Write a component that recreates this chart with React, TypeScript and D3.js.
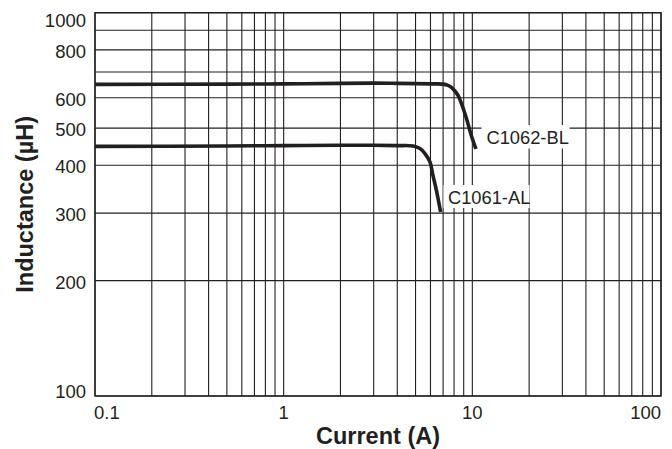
import { useEffect, useRef } from "react";
import * as d3 from "d3";

// Inductance vs current
const blCurrent = [0.1, 0.5, 1, 2, 3, 4, 5, 6, 7, 7.43, 7.8, 8.39, 8.81, 9.36, 9.83, 10.45];
const blInductance = [650, 651, 652, 654, 655, 654, 653, 652, 651, 646, 637, 609, 575, 525, 482, 441];

const alCurrent = [0.1, 0.5, 1, 2, 3, 4, 4.85, 5.28, 5.61, 5.96, 6.18, 6.49, 6.79];
const alInductance = [448, 449, 450, 451, 451, 450, 449, 442, 429, 408, 377, 339, 302];

const xTickValues = [0.1, 1, 10, 100];
const xTickLabels = ["0.1", "1", "10", "100"];
const yTickValues = [100, 200, 300, 400, 500, 600, 800, 1000];
const yTickLabels = ["100", "200", "300", "400", "500", "600", "800", "1000"];

const seriesNames = ["C1062-BL", "C1061-AL"];

const W = 672;
const H = 449;
const INK = "#231f20";

export default function App() {
  const ref = useRef<SVGSVGElement>(null);

  useEffect(() => {
    const svg = d3.select(ref.current);
    if (!svg.node()) return;
    svg.selectAll("*").remove();

    const left = 95, right = 661, top = 12.7, bottom = 396;
    const x = d3.scaleLog().domain([0.1, 100]).range([left, right]);
    const y = d3.scaleLog().domain([100, 1000]).range([bottom, top]);

    const font = "'Liberation Sans', Arial, Helvetica, sans-serif";

    // grid: every 1..9 in each decade
    const xGrid: number[] = [];
    for (const dec of [0.1, 1, 10]) for (let k = 1; k <= 9; k++) xGrid.push(dec * k);
    xGrid.push(100);
    const yGrid: number[] = [];
    for (let k = 1; k <= 10; k++) yGrid.push(100 * k);

    const g = svg.append("g");
    g.selectAll("line.vx")
      .data(xGrid)
      .join("line")
      .attr("x1", (d) => x(d))
      .attr("x2", (d) => x(d))
      .attr("y1", top)
      .attr("y2", bottom)
      .attr("stroke", INK)
      .attr("stroke-width", 1.1);
    g.selectAll("line.hy")
      .data(yGrid)
      .join("line")
      .attr("x1", left)
      .attr("x2", right)
      .attr("y1", (d) => y(d))
      .attr("y2", (d) => y(d))
      .attr("stroke", INK)
      .attr("stroke-width", 1.1);

    g.append("rect")
      .attr("x", left)
      .attr("y", top)
      .attr("width", right - left)
      .attr("height", bottom - top)
      .attr("fill", "none")
      .attr("stroke", INK)
      .attr("stroke-width", 1.4);

    // curves
    const line = d3
      .line<[number, number]>()
      .x((d) => x(d[0]))
      .y((d) => y(d[1]))
      .curve(d3.curveCatmullRom.alpha(0.5));

    const series = [
      d3.zip(blCurrent, blInductance) as [number, number][],
      d3.zip(alCurrent, alInductance) as [number, number][],
    ];
    series.forEach((pts) => {
      svg
        .append("path")
        .attr("d", line(pts))
        .attr("fill", "none")
        .attr("stroke", INK)
        .attr("stroke-width", 3.6)
        .attr("stroke-linecap", "butt");
    });

    // series labels on white boxes
    const labelBoxes = [
      { x: 481.5, y: 125, w: 88, h: 23.5, tx: 486.5, ty: 144.3 },
      { x: 443.5, y: 185, w: 86, h: 23, tx: 448, ty: 204 },
    ];
    labelBoxes.forEach((b, i) => {
      svg.append("rect").attr("x", b.x).attr("y", b.y).attr("width", b.w).attr("height", b.h).attr("fill", "#fff");
      svg
        .append("text")
        .attr("x", b.tx)
        .attr("y", b.ty)
        .attr("font-family", font)
        .attr("font-size", 18.3)
        .attr("fill", INK)
        .text(seriesNames[i]);
    });

    // x tick labels
    svg
      .selectAll("text.xt")
      .data(xTickValues)
      .join("text")
      .attr("x", (d, i) => (i === 0 ? left - 1 : i === xTickValues.length - 1 ? right : x(d)))
      .attr("y", 419)
      .attr("text-anchor", (_, i) => (i === 0 ? "start" : i === xTickValues.length - 1 ? "end" : "middle"))
      .attr("font-family", font)
      .attr("font-size", 18.5)
      .attr("fill", INK)
      .text((_, i) => xTickLabels[i]);

    // y tick labels
    svg
      .selectAll("text.yt")
      .data(yTickValues)
      .join("text")
      .attr("x", 86)
      .attr("y", (d) => (d === 1000 ? 27.3 : d === 100 ? 398.3 : y(d) + 8))
      .attr("text-anchor", "end")
      .attr("font-family", font)
      .attr("font-size", 18.5)
      .attr("fill", INK)
      .text((_, i) => yTickLabels[i]);

    // axis titles
    svg
      .append("text")
      .attr("x", (left + right) / 2)
      .attr("y", 444)
      .attr("text-anchor", "middle")
      .attr("font-family", font)
      .attr("font-weight", "bold")
      .attr("font-size", 23.5)
      .attr("fill", INK)
      .text("Current (A)");

    svg
      .append("text")
      .attr("transform", `translate(33,${(top + bottom) / 2}) rotate(-90)`)
      .attr("text-anchor", "middle")
      .attr("font-family", font)
      .attr("font-weight", "bold")
      .attr("font-size", 23.5)
      .attr("fill", INK)
      .text("Inductance (µH)");
  }, []);

  return (
    <svg
      ref={ref}
      width={W}
      height={H}
      viewBox={`0 0 ${W} ${H}`}
      style={{ position: "absolute", left: 0, top: 0, background: "#fff" }}
    />
  );
}
